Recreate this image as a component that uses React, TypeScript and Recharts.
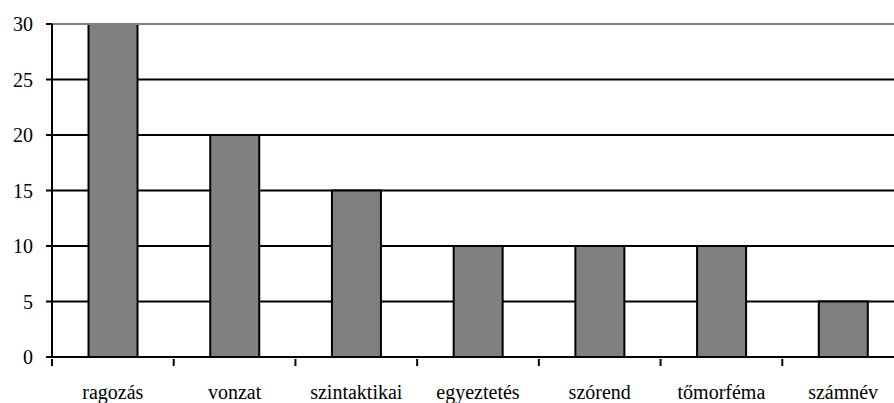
import { BarChart, Bar, XAxis, YAxis, CartesianGrid, ReferenceLine } from 'recharts';

const categories = ['ragozás', 'vonzat', 'szintaktikai', 'egyeztetés', 'szórend', 'tőmorféma', 'számnév'];
const counts = [30, 20, 15, 10, 10, 10, 5];
const yTicks = [0, 5, 10, 15, 20, 25, 30];

const data = categories.map((name, i) => ({ name, value: counts[i] }));

const CHART_W = 904;
const Y_W = 52;
const band = (CHART_W - Y_W) / categories.length;
const labelStyle = { fontFamily: '"Liberation Serif", "Times New Roman", serif', fontSize: 20 };

// eslint-disable-next-line @typescript-eslint/no-explicit-any
function XTick({ x, y, payload }: any) {
  const left = x - band / 2;
  return (
    <g>
      <line x1={left} x2={left} y1={y} y2={y + 7} stroke="#000" strokeWidth={2} />
      <text x={x} y={y + 40} textAnchor="middle" fill="#000" style={labelStyle}>
        {payload.value}
      </text>
    </g>
  );
}

// eslint-disable-next-line @typescript-eslint/no-explicit-any
function YTick({ x, y, payload }: any) {
  return (
    <text x={x - 11} y={y + 7} textAnchor="end" fill="#000" style={labelStyle}>
      {payload.value}
    </text>
  );
}

export default function App() {
  return (
    <div style={{ position: 'absolute', left: 0, top: 0, width: 894, height: 403, overflow: 'hidden', background: '#fff' }}>
      <BarChart
        width={CHART_W}
        height={403}
        data={data}
        margin={{ top: 24, right: 0, bottom: 0, left: 0 }}
        barCategoryGap="30%"
      >
        <CartesianGrid stroke="#000" strokeWidth={2} vertical={false} horizontalValues={yTicks.slice(0, -1)} />
        <ReferenceLine y={30} stroke="#808080" strokeWidth={2} />
        <XAxis
          dataKey="name"
          height={46}
          interval={0}
          stroke="#000"
          strokeWidth={2}
          tickLine={false}
          tickSize={0}
          tick={<XTick />}
        />
        <YAxis
          width={Y_W}
          domain={[0, 30]}
          ticks={yTicks}
          interval={0}
          stroke="#000"
          strokeWidth={2}
          tickSize={6}
          tick={<YTick />}
        />
        <Bar dataKey="value" fill="#808080" stroke="#000" strokeWidth={2} isAnimationActive={false} />
      </BarChart>
    </div>
  );
}
